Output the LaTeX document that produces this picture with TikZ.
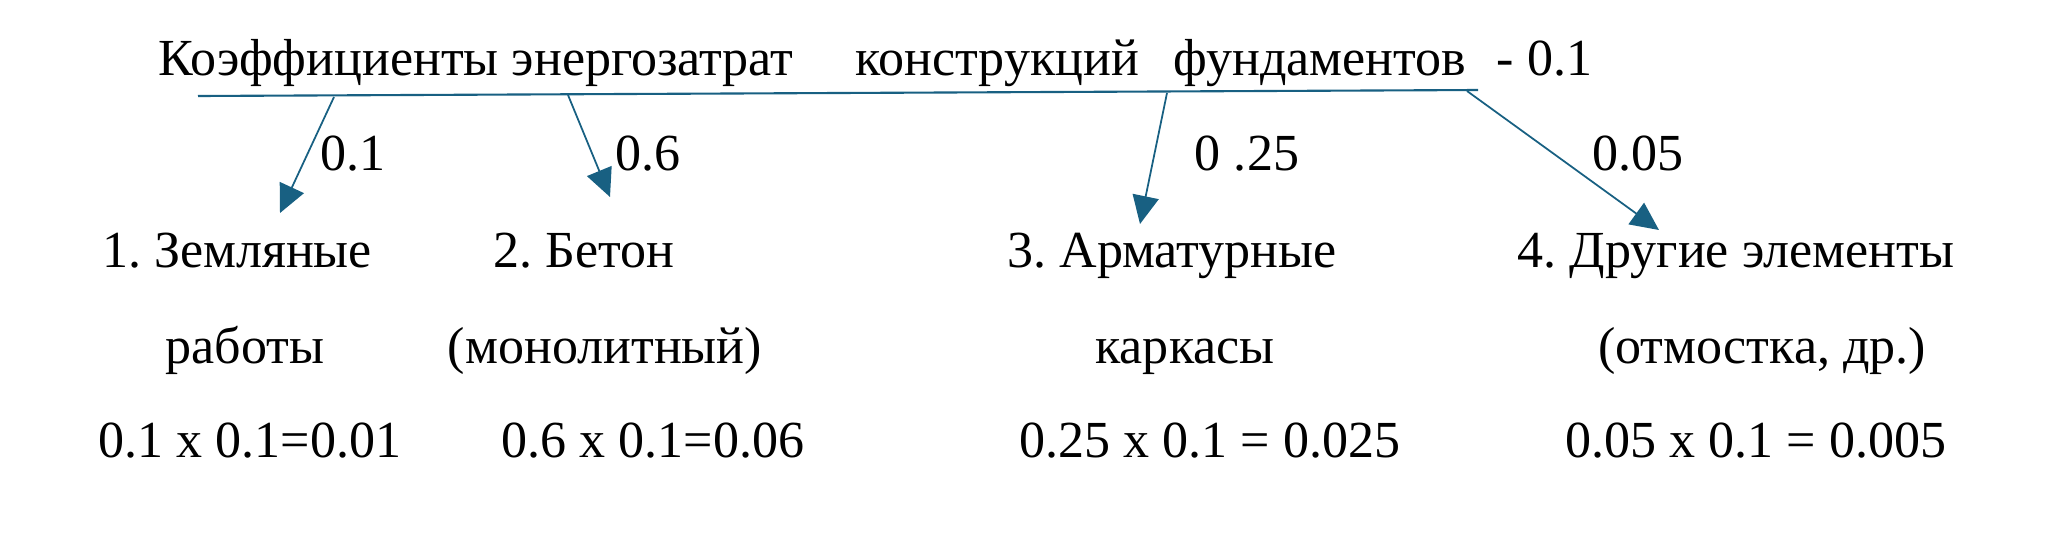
\documentclass[tikz,border=0pt]{standalone}
\usepackage{fontspec}
\setmainfont{Liberation Serif}
\usepackage{xcolor}
\usepackage{tikz}
\usetikzlibrary{arrows.meta}
\usetikzlibrary{positioning}
\definecolor{linkblue}{RGB}{24,96,130}
\frenchspacing

\begin{document}
\begin{tikzpicture}[x=0.01cm, y=-0.01cm]
          \useasboundingbox (0,0) rectangle (2068,542);
          \tikzstyle{every node}=[font=\fontsize{14.8}{18}\selectfont, inner sep=0pt, anchor=base]
          \tikzstyle{arr}=[linkblue, line width=0.5pt, -{Triangle[length=8pt,width=7.5pt]}]
          % title
          \node[anchor=base west] (K) at (158,75) {Коэффициенты энергозатрат};
          \node[anchor=base west] (Kc) at (855,75) {конструкций};
          \node[anchor=base west] (Kf) at (1173,75) {фундаментов};
          \node[anchor=base west] (Kv) at (1496,75) {- 0.1};
          \coordinate (L1) at (198,96);
          \coordinate (L2) at (1478,90);
          \draw[linkblue, line width=0.6pt] (L1) -- (L2);
          % arrows
          \coordinate (a1) at (334,97);
          \coordinate (a2) at (568,95);
          \coordinate (a3) at (1167,93);
          \coordinate (a4) at (1467,91);
          \coordinate (b1) at (280,213);
          \coordinate (b2) at (610,197);
          \coordinate (b3) at (1140,224);
          \coordinate (b4) at (1659,230);
          \draw[arr] (a1) -- (b1);
          \draw[arr] (a2) -- (b2);
          \draw[arr] (a3) -- (b3);
          \draw[arr] (a4) -- (b4);
          \node (w1) at (353,170) {0.1};
          \node (w2) at (648,170) {0.6};
          \node (w3) at (1247,170) {0 .25};
          \node (w4) at (1638,170) {0.05};
          % items
          \node (n1) at (237,267) {1. Земляные};
          \node (n2) at (584,267) {2. Бетон};
          \node (n3) at (1172,267) {3. Арматурные};
          \node (n4) at (1736,267) {4. Другие элементы};
          \node (m1) at (245,363) {работы};
          \node (m2) at (605,363) {(монолитный)};
          \node (m3) at (1185,363) {каркасы};
          \node (m4) at (1762,363) {(отмостка, др.)};
          \node (p1) at (250,457) {0.1 x 0.1=0.01};
          \node (p2) at (653,457) {0.6 x 0.1=0.06};
          \node (p3) at (1210,457) {0.25 x 0.1 = 0.025};
          \node (p4) at (1756,457) {0.05 x 0.1 = 0.005};
        \end{tikzpicture}
\end{document}
